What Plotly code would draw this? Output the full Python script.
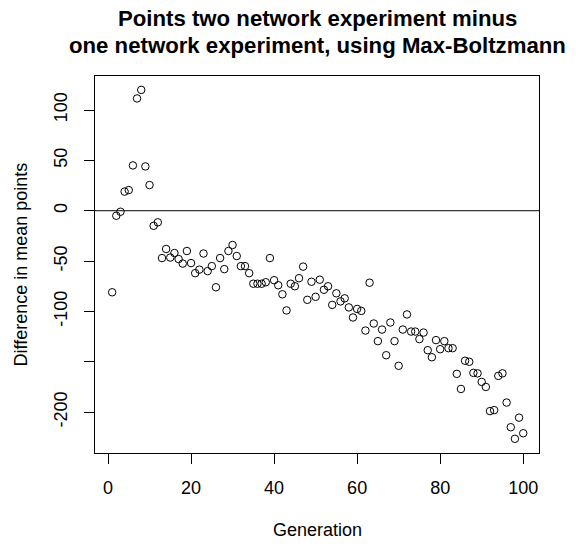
import plotly.graph_objects as go

generation = list(range(1, 101))
diff_points = [
    -81, -5, -1, 19, 20.5, 45, 111.5, 120, 44, 25.5,
    -15, -11.5, -47, -38, -46.5, -42, -48, -52.5, -40, -52,
    -62, -58.5, -42.5, -60, -55, -76, -47, -58, -40, -34,
    -45, -55, -55, -62, -72.5, -72.5, -72.5, -71, -47, -69,
    -74, -83, -99, -72.5, -75, -67, -55.5, -88.5, -70.5, -85.5,
    -68.5, -78.5, -75, -93.5, -82, -90, -87, -96, -106, -97.5,
    -99.5, -119, -71.5, -112, -129.5, -118, -143.5, -111, -129.5, -154,
    -118, -103, -120, -120, -127.5, -121, -138.5, -145.5, -128.5, -137.5,
    -129.5, -136.5, -136.5, -162, -177, -149, -150, -161, -161.5, -170,
    -175, -199, -198, -164, -161.5, -190.5, -215, -226.5, -205.5, -221,
]
x_ticks = [0, 20, 40, 60, 80, 100]
y_ticks = [-200, -150, -100, -50, 0, 50, 100]
y_tick_text = ["-200", "", "-100", "-50", "0", "50", "100"]
title_lines = ["Points two network experiment minus", "one network experiment, using Max-Boltzmann"]

FONT = "Liberation Sans, Arial, sans-serif"

fig = go.Figure()
fig.add_trace(go.Scatter(
    x=generation, y=diff_points, mode="markers",
    marker=dict(symbol="circle-open", size=7.5, color="black", line=dict(width=1, color="black")),
    hoverinfo="x+y", showlegend=False,
))

fig.add_hline(y=0, line=dict(color="black", width=1))

H_PLOT = 377
fig.update_layout(
    width=568, height=536,
    margin=dict(l=87, r=37, t=68, b=91),
    paper_bgcolor="white", plot_bgcolor="white",
    font=dict(family=FONT, size=18, color="black"),
    xaxis=dict(
        range=[-3.13, 103.8], tickvals=x_ticks, ticks="outside", ticklen=10,
        tickcolor="black", showgrid=False, zeroline=False,
        showline=True, linecolor="black", linewidth=1, mirror=True,
        tickfont=dict(size=18), ticklabelstandoff=8,
    ),
    yaxis=dict(
        range=[-240.6, 133.8], tickvals=y_ticks, ticktext=y_tick_text,
        ticks="outside", ticklen=10, tickangle=-90,
        tickcolor="black", showgrid=False, zeroline=False,
        showline=True, linecolor="black", linewidth=1, mirror=True,
        tickfont=dict(size=18), ticklabelstandoff=10,
    ),
    annotations=[
        dict(text="<b>%s</b>" % title_lines[0], x=0.5, xref="paper", y=(445 - 10) / H_PLOT, yref="paper",
             showarrow=False, xanchor="center", yanchor="middle", font=dict(size=22.2)),
        dict(text="<b>%s</b>" % title_lines[1], x=0.5, xref="paper", y=(445 - 38) / H_PLOT, yref="paper",
             showarrow=False, xanchor="center", yanchor="middle", font=dict(size=22.2)),
        dict(text="Generation", x=0.5, xref="paper", y=(445 - 522) / H_PLOT, yref="paper",
             showarrow=False, xanchor="center", yanchor="middle", font=dict(size=18)),
        dict(text="Difference in mean points", x=(12 - 87) / 444, xref="paper", y=0.5, yref="paper",
             showarrow=False, xanchor="center", yanchor="middle", textangle=-90, font=dict(size=18)),
    ],
)

fig.write_html("out.html")
